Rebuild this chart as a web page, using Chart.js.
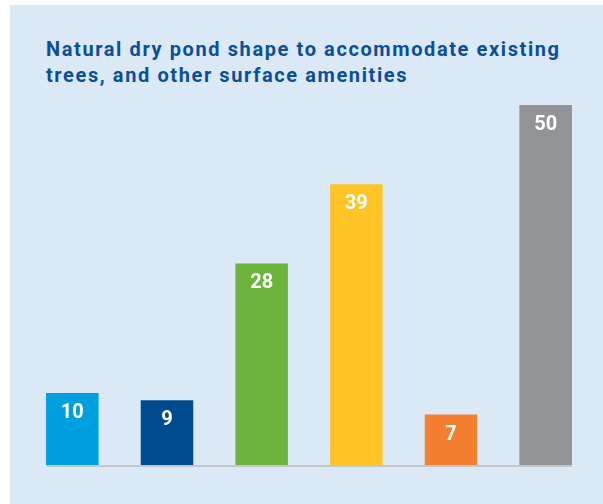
<!DOCTYPE html>
<html lang="en">
<head>
    <meta charset="UTF-8">
    <title>Natural dry pond shape</title>
    <script src="https://cdn.jsdelivr.net/npm/chart.js"></script>
    <style>
        body {
            margin: 0;
            padding: 0;
            background: #ffffff;
            width: 603px;
            height: 504px;
            overflow: hidden;
            position: relative;
        }
        .panel {
            position: absolute;
            left: 10px;
            top: 5px;
            width: 593px;
            height: 499px;
            background: #dbe9f7;
        }
        .title {
            position: absolute;
            left: 46px;
            top: 36px;
            margin: 0;
            font-family: Roboto, "Noto Sans", sans-serif;
            font-weight: 700;
            font-size: 20px;
            letter-spacing: 1.6px;
            line-height: 26px;
            white-space: nowrap;
            color: #0b4f94;
        }
        canvas {
            position: absolute;
            left: 0;
            top: 0;
        }
    </style>
</head>
<body>
    <div class="panel"></div>
    <div class="title">Natural dry pond shape to accommodate existing<br>trees, and other surface amenities</div>
    <canvas id="pondChart" width="603" height="504"></canvas>

    <script>
        const categories = ['A', 'B', 'C', 'D', 'E', 'F'];
        const values = [10, 9, 28, 39, 7, 50];
        const barColors = ['#009fdf', '#004b8f', '#6db43f', '#ffc425', '#f47f31', '#929396'];

        // white number near the top of each bar
        const valueLabels = {
            id: 'valueLabels',
            afterDatasetsDraw(chart) {
                const ctx = chart.ctx;
                const meta = chart.getDatasetMeta(0);
                ctx.save();
                ctx.fillStyle = '#ffffff';
                ctx.font = 'bold 20px Roboto, sans-serif';
                ctx.textAlign = 'center';
                ctx.textBaseline = 'middle';
                meta.data.forEach((bar, i) => {
                    ctx.fillText(values[i], bar.x, bar.y + 20);
                });
                ctx.restore();
            }
        };

        // grey baseline under the bars
        const baseline = {
            id: 'baseline',
            afterDatasetsDraw(chart) {
                const ctx = chart.ctx;
                const meta = chart.getDatasetMeta(0);
                const first = meta.data[0];
                const last = meta.data[meta.data.length - 1];
                const y0 = chart.scales.y.getPixelForValue(0);
                ctx.save();
                ctx.fillStyle = '#c3c7cb';
                ctx.fillRect(first.x - first.width / 2, y0, (last.x + last.width / 2) - (first.x - first.width / 2), 2);
                ctx.restore();
            }
        };

        new Chart(document.getElementById('pondChart'), {
            type: 'bar',
            data: {
                labels: categories,
                datasets: [{
                    data: values,
                    backgroundColor: barColors,
                    borderWidth: 0,
                    categoryPercentage: 1,
                    barPercentage: 0.555
                }]
            },
            options: {
                responsive: false,
                animation: false,
                layout: { padding: { left: 25, right: 10, top: 105, bottom: 39 } },
                plugins: {
                    legend: { display: false },
                    tooltip: { enabled: false }
                },
                scales: {
                    x: { display: false },
                    y: { display: false, min: 0, max: 50 }
                }
            },
            plugins: [baseline, valueLabels]
        });
    </script>
</body>
</html>
